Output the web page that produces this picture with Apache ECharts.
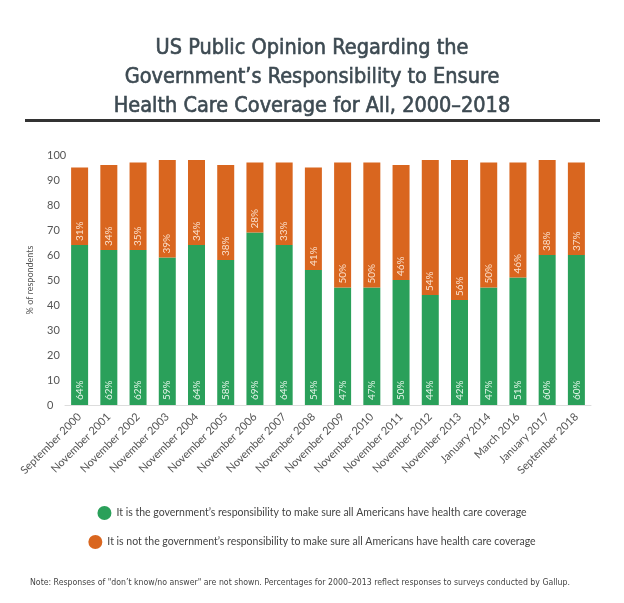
<!DOCTYPE html>
<html>
<head>
<meta charset="utf-8">
<script src="https://cdn.jsdelivr.net/npm/echarts@6/dist/echarts.min.js"></script>
<style>html,body{margin:0;padding:0;background:#fff}#c{width:624px;height:603px}</style>
</head>
<body>
<div id="c"></div>
<script>
var categories = ["September 2000","November 2001","November 2002","November 2003","November 2004","November 2005","November 2006","November 2007","November 2008","November 2009","November 2010","November 2011","November 2012","November 2013","January 2014","March 2016","January 2017","September 2018"];
var isResponsibility = [64,62,62,59,64,58,69,64,54,47,47,50,44,42,47,51,60,60];
var notResponsibility = [31,34,35,39,34,38,28,33,41,50,50,46,54,56,50,46,38,37];
var yTicks = [0,10,20,30,40,50,60,70,80,90,100];
var nameYes = "It is the government\u2019s responsibility to make sure all Americans have health care coverage";
var nameNo = "It is not the government\u2019s responsibility to make sure all Americans have health care coverage";

var GREEN = '#2aa05a', ORANGE = '#d9661f';
var chart = echarts.init(document.getElementById('c'));
chart.setOption({
  animation: false,
  backgroundColor: '#fff',
  title: [{
    text: 'US Public Opinion Regarding the\nGovernment\u2019s Responsibility to Ensure\nHealth Care Coverage for All, 2000\u20132018',
    left: 'center', top: 29,
    textStyle: {fontFamily: 'DejaVu Sans Condensed, sans-serif', fontSize: 21.5, fontWeight: 'normal', color: '#3d4a52',
      textBorderColor: '#3d4a52', textBorderWidth: 0.6, lineHeight: 29, align: 'center'}
  }, {
    text: 'Note: Responses of "don\u2019t know/no answer" are not shown. Percentages for 2000\u20132013 reflect responses to surveys conducted by Gallup.',
    left: 25, top: 573,
    textStyle: {fontFamily: 'DejaVu Sans Condensed, sans-serif', fontSize: 8.7, fontWeight: 'normal', color: '#444'}
  }],
  graphic: [{type: 'rect', shape: {x: 25, y: 119, width: 575, height: 3}, style: {fill: '#333'}}],
  legend: [{
    data: [{name: nameYes, icon: 'circle'}], left: 'center', top: 501, itemWidth: 14, itemHeight: 14,
    textStyle: {fontFamily: 'Lato, sans-serif', fontSize: 10.5, color: '#444'}
  }, {
    data: [{name: nameNo, icon: 'circle'}], left: 'center', top: 530, itemWidth: 14, itemHeight: 14,
    textStyle: {fontFamily: 'Lato, sans-serif', fontSize: 10.5, color: '#444'}
  }],
  grid: {left: 65, right: 33, top: 155, bottom: 198, containLabel: false},
  xAxis: {
    type: 'category', data: categories,
    axisLine: {lineStyle: {color: '#dddddd'}}, axisTick: {show: false},
    axisLabel: {interval: 0, rotate: 45, fontFamily: 'Lato, sans-serif', fontSize: 11, color: '#555', margin: 10}
  },
  yAxis: {
    type: 'value', min: 0, max: 100, interval: 10,
    name: '% of respondents', nameLocation: 'middle', nameRotate: 90, nameGap: 30,
    nameTextStyle: {fontFamily: 'Lato, sans-serif', fontSize: 9, color: '#555'},
    axisLine: {show: false}, axisTick: {show: false}, splitLine: {show: false},
    axisLabel: {align: 'left', margin: 18, fontFamily: 'Lato, sans-serif', fontSize: 11, color: '#555',
      formatter: function (v) { return yTicks.indexOf(v) >= 0 ? String(v) : ''; }}
  },
  series: [{
    name: nameYes, type: 'bar', stack: 't', data: isResponsibility, barWidth: 17,
    itemStyle: {color: GREEN},
    label: {show: true, position: 'insideBottom', rotate: 90, align: 'left', verticalAlign: 'middle', distance: 5,
      formatter: '{c}%', color: '#e3f4e8', fontFamily: 'Lato, sans-serif', fontSize: 10}
  }, {
    name: nameNo, type: 'bar', stack: 't', data: notResponsibility, barWidth: 17,
    itemStyle: {color: ORANGE},
    label: {show: true, position: 'insideBottom', rotate: 90, align: 'left', verticalAlign: 'middle', distance: 4,
      formatter: '{c}%', color: '#fbe0cc', fontFamily: 'Lato, sans-serif', fontSize: 10}
  }]
});
</script>
</body>
</html>
